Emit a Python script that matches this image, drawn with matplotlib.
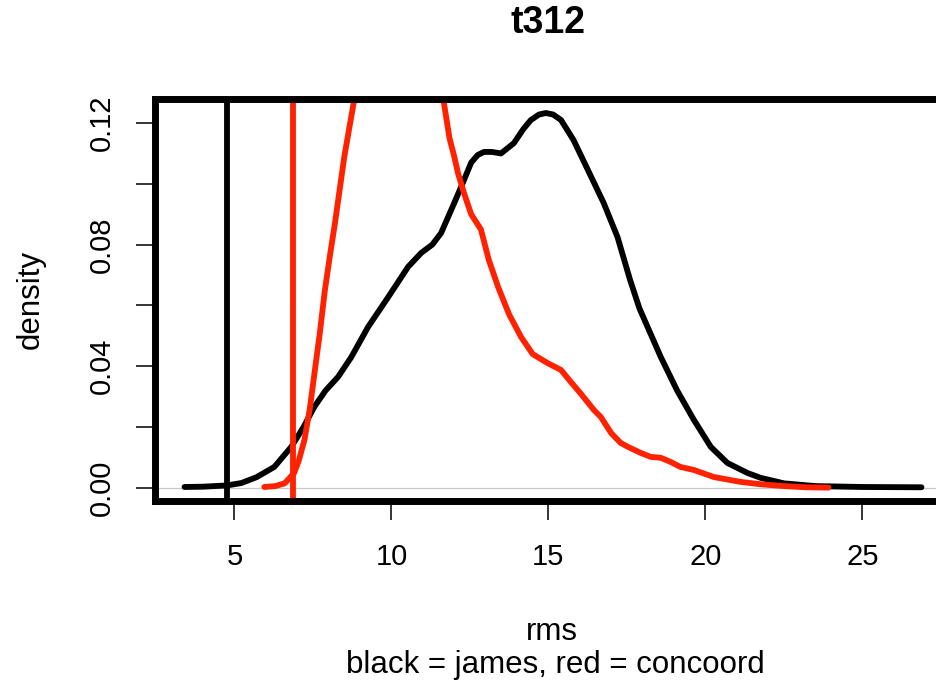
import matplotlib
matplotlib.use("Agg")
import matplotlib.pyplot as plt

plt.rcParams["font.family"] = ["Liberation Sans", "DejaVu Sans"]

# density curve for james (black)
james_x = [3.41, 4.0, 4.75, 5.22, 5.7, 6.27, 6.81, 7.2, 7.54, 7.9, 8.3, 8.72,
           9.26, 9.9, 10.53, 10.95, 11.3, 11.58, 12.0, 12.3, 12.54, 12.75,
           12.95, 13.2, 13.49, 13.9, 14.2, 14.44, 14.7, 14.92, 15.15, 15.4,
           15.8, 16.26, 16.76, 17.2, 17.6, 17.9, 18.58, 19.1, 19.63, 20.17,
           20.7, 21.34, 21.76, 22.5, 23.5, 25.0, 26.88]
james_y = [0.0003, 0.0004, 0.0008, 0.0016, 0.0035, 0.0069, 0.0135, 0.020,
           0.0266, 0.032, 0.0365, 0.043, 0.053, 0.0628, 0.0727, 0.0773,
           0.080, 0.0838, 0.0937, 0.101, 0.107, 0.1095, 0.1105, 0.1105,
           0.110, 0.1134, 0.118, 0.121, 0.1228, 0.1233, 0.1228, 0.121,
           0.1144, 0.1045, 0.0937, 0.0825, 0.0684, 0.059, 0.043, 0.032,
           0.0224, 0.0135, 0.0082, 0.0049, 0.0033, 0.0015, 0.0006, 0.0003,
           0.0002]

# density curve for concoord (red); its peak is clipped by the axes
concoord_x = [5.95, 6.3, 6.6, 6.9, 7.05, 7.23, 7.4, 7.55, 7.72, 7.88, 8.05,
              8.2, 8.5, 8.82, 9.2, 9.7, 10.2, 10.7, 11.2, 11.65, 11.85, 12.0,
              12.12, 12.31, 12.54, 12.85, 13.1, 13.4, 13.75, 14.13, 14.5,
              14.98, 15.4, 15.7, 16.03, 16.45, 16.67, 17.0, 17.3, 17.53,
              17.94, 18.26, 18.58, 18.9, 19.2, 19.63, 20.26, 21.1, 21.76,
              22.5, 23.2, 23.92]
concoord_y = [0.0003, 0.0006, 0.0015, 0.0049, 0.009, 0.0158, 0.026, 0.0378,
              0.051, 0.065, 0.077, 0.087, 0.109, 0.128, 0.155, 0.18, 0.19,
              0.182, 0.16, 0.128, 0.115, 0.109, 0.1035, 0.097, 0.090, 0.085,
              0.075, 0.066, 0.057, 0.0496, 0.044, 0.041, 0.0388, 0.035,
              0.031, 0.0256, 0.0233, 0.018, 0.0148, 0.0135, 0.0115, 0.0102,
              0.0099, 0.0085, 0.0069, 0.0059, 0.0036, 0.002, 0.0012, 0.0006,
              0.0002, 0.0001]

james_ref = 4.75
concoord_ref = 6.87

x_ticks = [5, 10, 15, 20, 25]
y_ticks = [0.00, 0.02, 0.04, 0.06, 0.08, 0.10, 0.12]
y_labels = ["0.00", "", "0.04", "", "0.08", "", "0.12"]

fig = plt.figure(figsize=(9.36, 6.91), dpi=100)
ax = fig.add_axes([0.1656, 0.275, 0.8504, 0.5817])

ax.axhline(0, color="#c8c8c8", lw=0.9, zorder=1)
ax.plot(james_x, james_y, color="black", lw=4.2, solid_capstyle="round",
        solid_joinstyle="round", zorder=2)
ax.axvline(james_ref, color="black", lw=4.2, zorder=3)
ax.plot(concoord_x, concoord_y, color="#ff2200", lw=4.2, solid_capstyle="round",
        solid_joinstyle="round", zorder=4)
ax.axvline(concoord_ref, color="#ff2200", lw=4.2, zorder=5)

ax.set_xlim(2.47, 27.82)
ax.set_ylim(-0.0043, 0.1279)

ax.set_xticks(x_ticks)
ax.set_xticklabels([str(v) for v in x_ticks])
ax.set_yticks(y_ticks)
ax.set_yticklabels(y_labels, rotation=90, va="center")
ax.tick_params(axis="both", length=13.5, width=1.1, labelsize=21)
ax.tick_params(axis="x", pad=17)
ax.tick_params(axis="y", pad=15)

for s in ax.spines.values():
    s.set_linewidth(5.0)
    s.set_zorder(10)

fig.text(0.5855, 0.966, "t312", ha="center", va="center", fontsize=27, fontweight="bold")
fig.text(0.590, 0.085, "rms", ha="center", va="center", fontsize=22.5)
fig.text(0.5935, 0.037, "black = james, red = concoord", ha="center", va="center", fontsize=22.5)
fig.text(0.033, 0.566, "density", ha="center", va="center", rotation=90, fontsize=22.5)

fig.savefig("out.png", dpi=100)
